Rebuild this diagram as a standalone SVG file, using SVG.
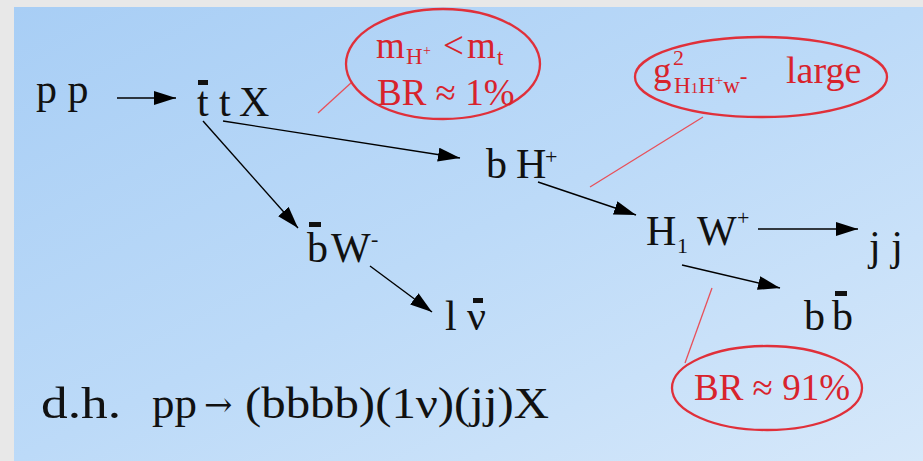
<svg xmlns="http://www.w3.org/2000/svg" width="923" height="461" viewBox="0 0 923 461">
<defs>
<linearGradient id="bg" x1="0" y1="0" x2="1" y2="1">
<stop offset="0" stop-color="#a8cef5"/>
<stop offset="0.5" stop-color="#bcdaf8"/>
<stop offset="1" stop-color="#d6e8fa"/>
</linearGradient>
<marker id="ah" viewBox="0 0 22 14" refX="22" refY="7" markerWidth="22" markerHeight="14" markerUnits="userSpaceOnUse" orient="auto">
<path d="M0,0 L22,7 L0,14 Z" fill="#000"/>
</marker>
<style>
.t{font-family:"Liberation Serif","Times New Roman",serif;fill:#111;font-size:42px}
.r{font-family:"Liberation Serif","Times New Roman",serif;fill:#d8232c;font-size:37px}
.a{stroke:#000;stroke-width:1.4;fill:none;marker-end:url(#ah)}
.p{stroke:#e8505a;stroke-width:1.3;fill:none}
.e{stroke:#e0303a;stroke-width:2.3;fill:none}
.bar{fill:#111}
</style>
</defs>
<rect x="0" y="0" width="923" height="461" fill="#e8e8e8"/>
<rect x="14" y="7" width="909" height="454" fill="url(#bg)"/>

<g id="connectors">
<line class="a" x1="117" y1="98" x2="176" y2="98"/>
<line class="a" x1="203" y1="121" x2="298" y2="228"/>
<line class="a" x1="223" y1="121" x2="460" y2="158"/>
<line class="a" x1="370" y1="266" x2="432" y2="312"/>
<line class="a" x1="538" y1="182" x2="636" y2="215"/>
<line class="a" x1="758" y1="229" x2="858" y2="229"/>
<line class="a" x1="682" y1="265" x2="780" y2="288"/>
<line class="p" x1="318" y1="113" x2="352" y2="82"/>
<line class="p" x1="590" y1="187" x2="703" y2="117"/>
<line class="p" x1="712" y1="288" x2="685" y2="363"/>
</g>

<g id="pp"><text class="t" x="36" y="103">p p</text></g>
<g id="ttX">
<rect class="bar" x="198" y="80" width="10" height="5"/>
<text class="t" x="197" y="116">t<tspan x="219">t</tspan><tspan x="239">X</tspan></text>
</g>
<g id="bW">
<rect class="bar" x="309" y="222" width="12" height="5"/>
<text class="t" x="307" y="262">b<tspan x="331">W</tspan><tspan x="371" y="246" style="font-size:22px">-</tspan></text>
</g>
<g id="lnu">
<rect class="bar" x="473" y="298" width="10" height="5"/>
<text class="t" x="445" y="330">l<tspan x="467">ν</tspan></text>
</g>
<g id="bH">
<text class="t" x="486" y="178">b<tspan x="516">H</tspan><tspan x="545" y="164" style="font-size:22px">+</tspan></text>
</g>
<g id="H1W">
<text class="t" x="646" y="245">H<tspan x="677" y="253" style="font-size:22px">1</tspan><tspan x="697" y="245">W</tspan><tspan x="737" y="225" style="font-size:22px">+</tspan></text>
</g>
<g id="jj"><text class="t" x="869" y="260">j j</text></g>
<g id="bb">
<rect class="bar" x="835" y="291" width="12" height="5"/>
<text class="t" x="804" y="330">b<tspan x="832">b</tspan></text>
</g>

<g id="note1">
<ellipse class="e" cx="443" cy="64" rx="97" ry="55"/>
<text class="r" x="376" y="58">m<tspan x="406" y="64" style="font-size:23px">H</tspan><tspan x="423" y="55" style="font-size:14px">+</tspan><tspan x="443" y="58">&lt;</tspan><tspan x="467">m</tspan><tspan x="497" y="65" style="font-size:23px">t</tspan></text>
<text class="r" x="377" y="105">BR ≈ 1%</text>
</g>
<g id="note2">
<ellipse class="e" cx="761" cy="77" rx="126" ry="40"/>
<text class="r" x="653" y="83">g<tspan x="673" y="65" style="font-size:22px">2</tspan><tspan x="674" y="93" style="font-size:23px">H</tspan><tspan style="font-size:15px">1</tspan><tspan style="font-size:23px">H</tspan><tspan y="85" style="font-size:15px">+</tspan><tspan y="93" style="font-size:23px">w</tspan><tspan y="84" style="font-size:23px">-</tspan><tspan x="786" y="83" style="font-size:38px">large</tspan></text>
</g>
<g id="note3">
<ellipse class="e" cx="767" cy="388" rx="95" ry="42"/>
<text class="r" x="694" y="400">BR ≈ 91%</text>
</g>

<g id="summary">
<text class="t" x="41" y="418" style="font-size:44px" textLength="80" lengthAdjust="spacingAndGlyphs">d.h.</text>
<text class="t" x="152" y="418" style="font-size:44px" textLength="45" lengthAdjust="spacingAndGlyphs">pp</text>
<text class="t" x="204" y="416" style="font-family:'DejaVu Serif',serif;font-size:34px">→</text>
<text class="t" x="245" y="418" style="font-size:44px" textLength="304" lengthAdjust="spacingAndGlyphs">(bbbb)(1ν)(jj)X</text>
</g>
</svg>
